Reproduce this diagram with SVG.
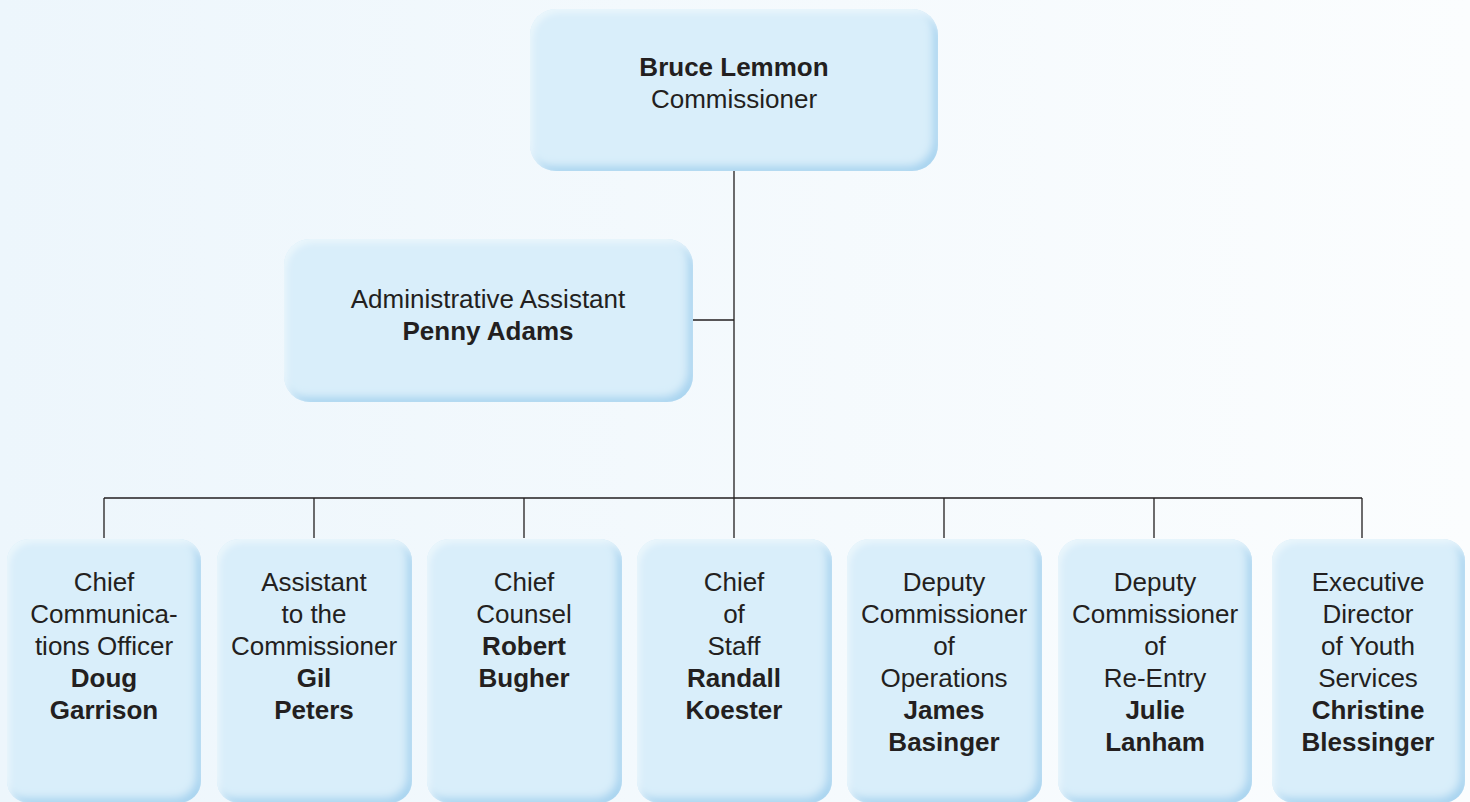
<svg xmlns="http://www.w3.org/2000/svg" width="1470" height="802" viewBox="0 0 1470 802">
<defs>
<linearGradient id="bg" x1="0" y1="0" x2="1" y2="0">
<stop offset="0" stop-color="#edf6fc"/>
<stop offset="1" stop-color="#fbfdfe"/>
</linearGradient>
<filter id="box" x="-5%" y="-5%" width="110%" height="110%">
<feOffset in="SourceAlpha" dx="-5" dy="-5" result="o1"/>
<feGaussianBlur in="o1" stdDeviation="4" result="b1"/>
<feComposite in="SourceAlpha" in2="b1" operator="out" result="e1"/>
<feFlood flood-color="#a6d3ef" result="c1"/>
<feComposite in="c1" in2="e1" operator="in" result="dark"/>
<feOffset in="SourceAlpha" dx="3" dy="4" result="o2"/>
<feGaussianBlur in="o2" stdDeviation="3" result="b2"/>
<feComposite in="SourceAlpha" in2="b2" operator="out" result="e2"/>
<feFlood flood-color="#eaf6fc" result="c2"/>
<feComposite in="c2" in2="e2" operator="in" result="light"/>
<feMerge><feMergeNode in="SourceGraphic"/><feMergeNode in="dark"/><feMergeNode in="light"/></feMerge>
</filter>
</defs>
<style>
.bx{fill:#d9eefa;filter:url(#box)}
text{font-family:"Liberation Sans",Arial,sans-serif;font-size:26px;fill:#231f20;text-anchor:middle}
.b{font-weight:bold}
.ln{stroke:#231f20;stroke-width:1.3;fill:none}
</style>
<rect x="0" y="0" width="1470" height="802" fill="url(#bg)"/>
<g id="connectors">
<path class="ln" d="M734 171V498M693 320H734M104 498H1362M104 498V538M314 498V538M524 498V538M734 498V538M944 498V538M1154 498V538M1362 498V538"/>
</g>
<g id="n-commissioner">
<rect class="bx" x="530" y="9" width="408" height="162" rx="26"/>
<text x="734" y="76" class="b">Bruce Lemmon</text>
<text x="734" y="108">Commissioner</text>
</g>
<g id="n-admin">
<rect class="bx" x="284" y="239" width="409" height="163" rx="26"/>
<text x="488" y="308">Administrative Assistant</text>
<text x="488" y="340" class="b">Penny Adams</text>
</g>
<g id="n-comm">
<rect class="bx" x="7" y="539" width="194" height="264" rx="22"/>
<text x="104" y="591">Chief</text>
<text x="104" y="623">Communica-</text>
<text x="104" y="655">tions Officer</text>
<text x="104" y="687" class="b">Doug</text>
<text x="104" y="719" class="b">Garrison</text>
</g>
<g id="n-asst">
<rect class="bx" x="217" y="539" width="195" height="264" rx="22"/>
<text x="314" y="591">Assistant</text>
<text x="314" y="623">to the</text>
<text x="314" y="655">Commissioner</text>
<text x="314" y="687" class="b">Gil</text>
<text x="314" y="719" class="b">Peters</text>
</g>
<g id="n-counsel">
<rect class="bx" x="427" y="539" width="195" height="264" rx="22"/>
<text x="524" y="591">Chief</text>
<text x="524" y="623">Counsel</text>
<text x="524" y="655" class="b">Robert</text>
<text x="524" y="687" class="b">Bugher</text>
</g>
<g id="n-staff">
<rect class="bx" x="637" y="539" width="195" height="264" rx="22"/>
<text x="734" y="591">Chief</text>
<text x="734" y="623">of</text>
<text x="734" y="655">Staff</text>
<text x="734" y="687" class="b">Randall</text>
<text x="734" y="719" class="b">Koester</text>
</g>
<g id="n-ops">
<rect class="bx" x="847" y="539" width="195" height="264" rx="22"/>
<text x="944" y="591">Deputy</text>
<text x="944" y="623">Commissioner</text>
<text x="944" y="655">of</text>
<text x="944" y="687">Operations</text>
<text x="944" y="719" class="b">James</text>
<text x="944" y="751" class="b">Basinger</text>
</g>
<g id="n-reentry">
<rect class="bx" x="1058" y="539" width="194" height="264" rx="22"/>
<text x="1155" y="591">Deputy</text>
<text x="1155" y="623">Commissioner</text>
<text x="1155" y="655">of</text>
<text x="1155" y="687">Re-Entry</text>
<text x="1155" y="719" class="b">Julie</text>
<text x="1155" y="751" class="b">Lanham</text>
</g>
<g id="n-youth">
<rect class="bx" x="1272" y="539" width="193" height="264" rx="22"/>
<text x="1368" y="591">Executive</text>
<text x="1368" y="623">Director</text>
<text x="1368" y="655">of Youth</text>
<text x="1368" y="687">Services</text>
<text x="1368" y="719" class="b">Christine</text>
<text x="1368" y="751" class="b">Blessinger</text>
</g>
</svg>
